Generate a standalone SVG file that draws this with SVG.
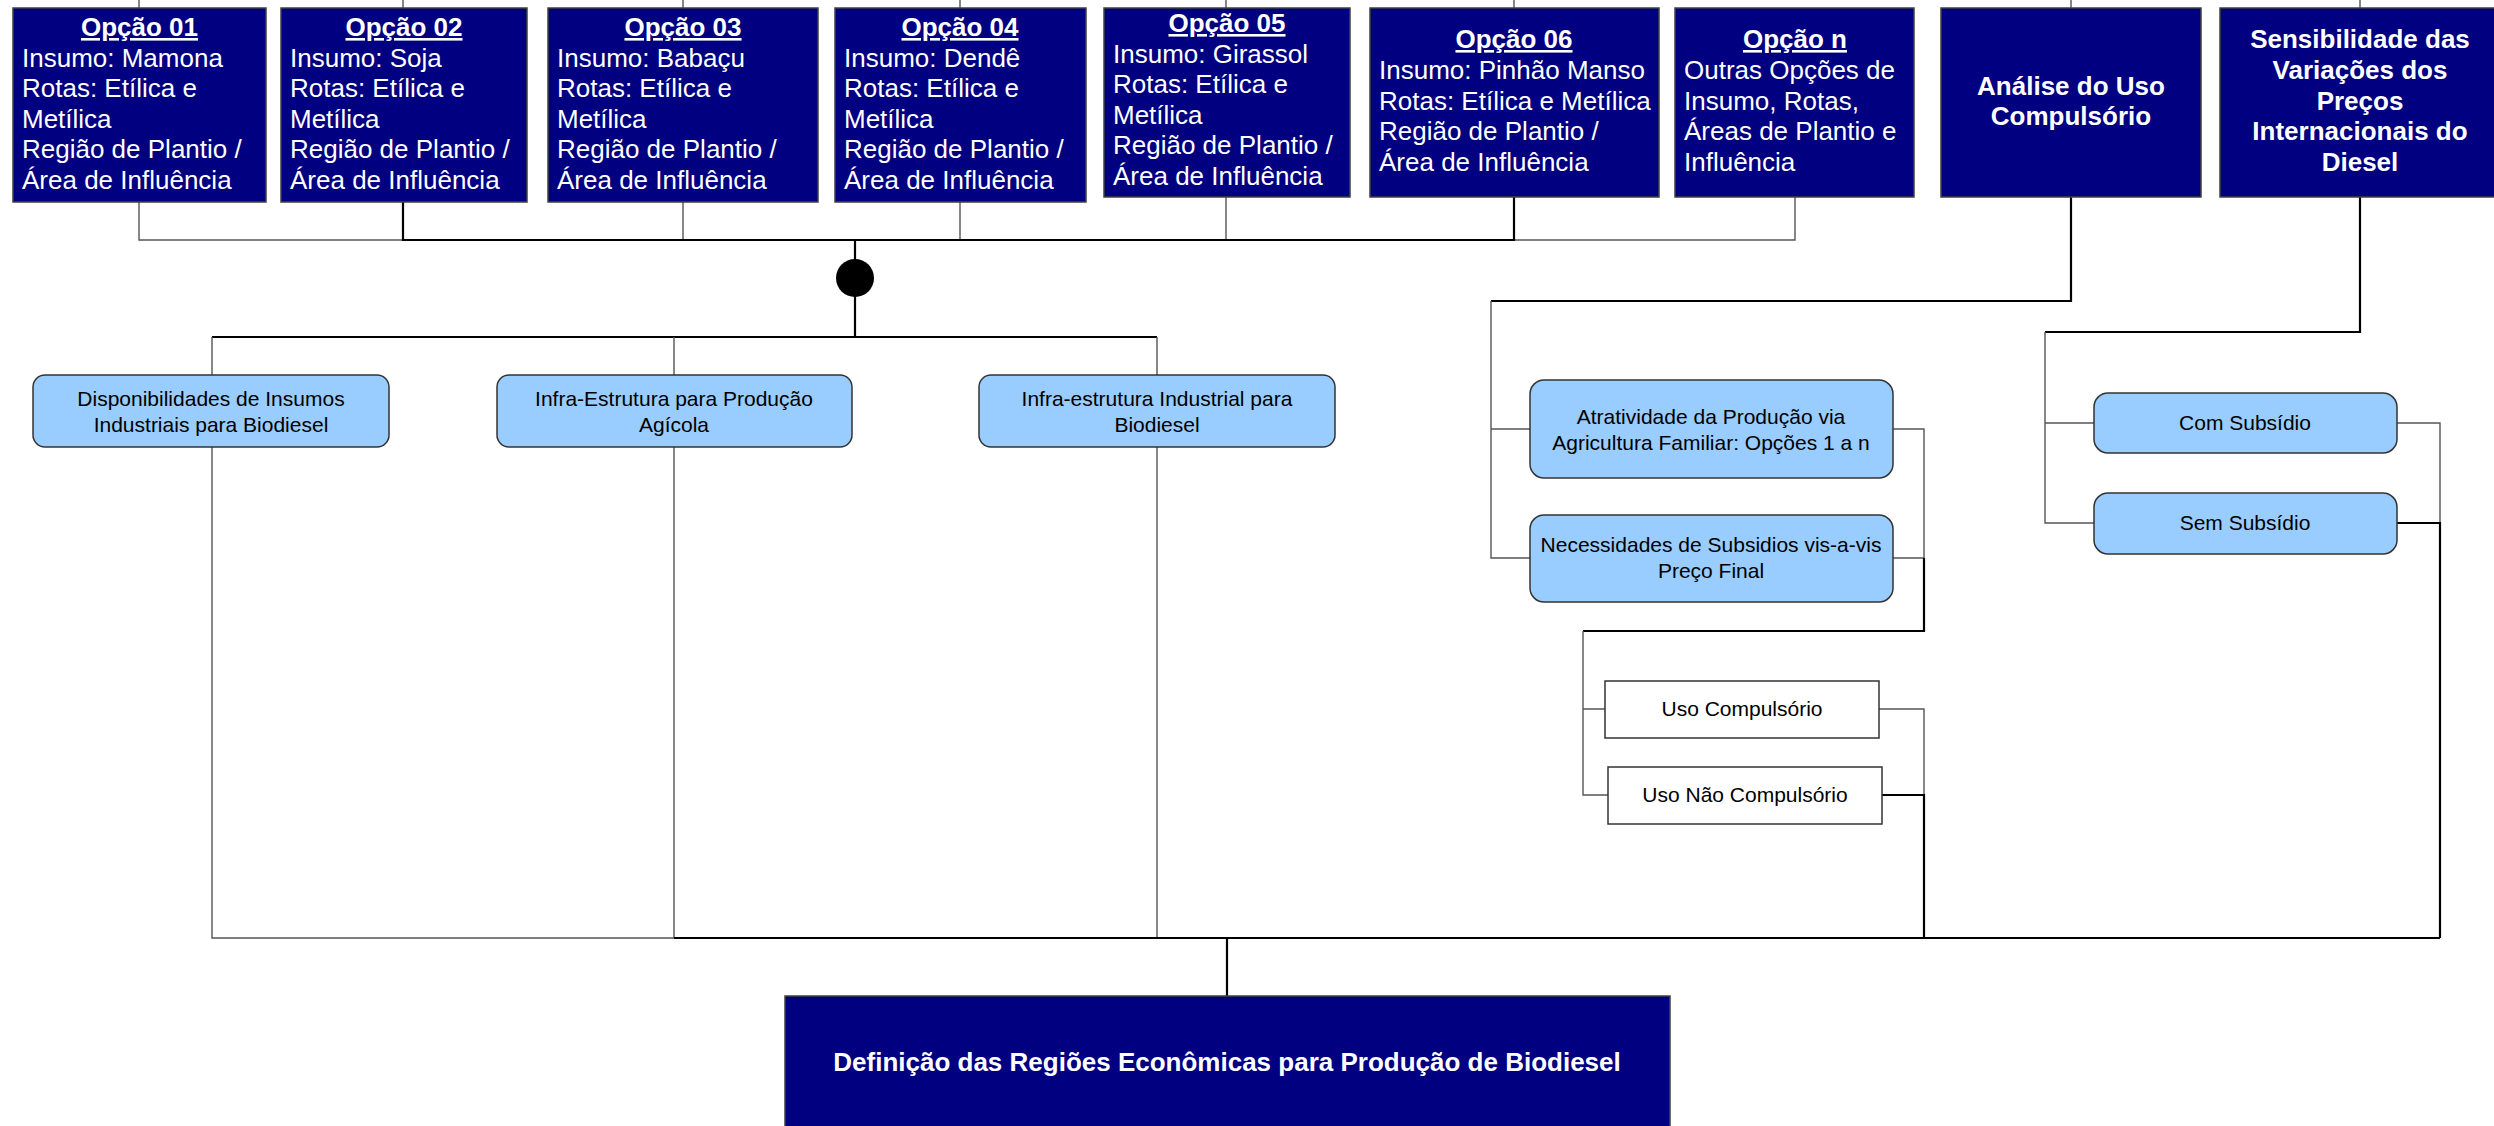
<svg xmlns="http://www.w3.org/2000/svg" width="2494" height="1126" viewBox="0 0 2494 1126">
<style>
.nv{fill:#000080;stroke:#404040;stroke-width:1.5}
.lb{fill:#99CCFF;stroke:#333;stroke-width:1.5}
.wb{fill:#fff;stroke:#333;stroke-width:1.5}
.t{font-family:"Liberation Sans",Arial,sans-serif;font-size:26px;fill:#fff}
.tb{font-family:"Liberation Sans",Arial,sans-serif;font-size:26px;fill:#fff;font-weight:bold}
.h{font-family:"Liberation Sans",Arial,sans-serif;font-size:26px;fill:#fff;font-weight:bold;text-decoration:underline;text-anchor:middle}
.s{font-family:"Liberation Sans",Arial,sans-serif;font-size:21px;fill:#000;text-anchor:middle}
.thin{fill:none;stroke:#555;stroke-width:1.4}
.thick{fill:none;stroke:#000;stroke-width:2.2}
</style>
<rect width="2494" height="1126" fill="#fff"/>
<g id="connectors">
<path class="thin" d="M139 0V8M403 0V8M683 0V8M960 0V8M1226 0V8M1514 0V8M2071 0V8M2360 0V8"/>
<path class="thin" d="M139 202V240H403M683 202V240M960 202V240M1226 197V240M1514 240H1795V197"/>
<path class="thick" d="M403 202V240H1514V197"/>
<path class="thick" d="M855 240V337M212 337H1157"/>
<path class="thin" d="M212 337V375M674 337V375M1157 337V375"/>
<path class="thin" d="M212 447V938H674M674 447V938M1157 447V938"/>
<path class="thick" d="M674 938H2440M1227 938V996"/>
<path class="thick" d="M2071 197V301H1491"/>
<path class="thin" d="M1491 301V558H1530M1491 429H1530"/>
<path class="thin" d="M1893 429H1924V558M1893 558H1924"/>
<path class="thick" d="M1924 558V631H1583"/>
<path class="thin" d="M1583 631V795H1608M1583 709H1605"/>
<path class="thin" d="M1879 709H1924V795"/>
<path class="thick" d="M1882 795H1924V938"/>
<path class="thick" d="M2360 197V332H2045"/>
<path class="thin" d="M2045 332V523H2094M2045 423H2094"/>
<path class="thin" d="M2397 423H2440V523"/>
<path class="thick" d="M2397 523H2440V938"/>
</g>
<g id="merge"><circle cx="855" cy="278" r="19" fill="#000"/></g>
<g id="opcao01"><rect class="nv" x="13" y="8" width="253" height="194"/>
<text class="h" x="139.5" y="36">Opção 01</text>
<text class="t"><tspan x="22" y="67">Insumo: Mamona</tspan><tspan x="22" y="97">Rotas: Etílica e</tspan><tspan x="22" y="128">Metílica</tspan><tspan x="22" y="158">Região de Plantio /</tspan><tspan x="22" y="189">Área de Influência</tspan></text></g>
<g id="opcao02"><rect class="nv" x="281" y="8" width="246" height="194"/>
<text class="h" x="404" y="36">Opção 02</text>
<text class="t"><tspan x="290" y="67">Insumo: Soja</tspan><tspan x="290" y="97">Rotas: Etílica e</tspan><tspan x="290" y="128">Metílica</tspan><tspan x="290" y="158">Região de Plantio /</tspan><tspan x="290" y="189">Área de Influência</tspan></text></g>
<g id="opcao03"><rect class="nv" x="548" y="8" width="270" height="194"/>
<text class="h" x="683" y="36">Opção 03</text>
<text class="t"><tspan x="557" y="67">Insumo: Babaçu</tspan><tspan x="557" y="97">Rotas: Etílica e</tspan><tspan x="557" y="128">Metílica</tspan><tspan x="557" y="158">Região de Plantio /</tspan><tspan x="557" y="189">Área de Influência</tspan></text></g>
<g id="opcao04"><rect class="nv" x="835" y="8" width="251" height="194"/>
<text class="h" x="960" y="36">Opção 04</text>
<text class="t"><tspan x="844" y="67">Insumo: Dendê</tspan><tspan x="844" y="97">Rotas: Etílica e</tspan><tspan x="844" y="128">Metílica</tspan><tspan x="844" y="158">Região de Plantio /</tspan><tspan x="844" y="189">Área de Influência</tspan></text></g>
<g id="opcao05"><rect class="nv" x="1104" y="8" width="246" height="189"/>
<text class="h" x="1227" y="32">Opção 05</text>
<text class="t"><tspan x="1113" y="63">Insumo: Girassol</tspan><tspan x="1113" y="93">Rotas: Etílica e</tspan><tspan x="1113" y="124">Metílica</tspan><tspan x="1113" y="154">Região de Plantio /</tspan><tspan x="1113" y="185">Área de Influência</tspan></text></g>
<g id="opcao06"><rect class="nv" x="1370" y="8" width="289" height="189"/>
<text class="h" x="1514" y="48">Opção 06</text>
<text class="t"><tspan x="1379" y="79">Insumo: Pinhão Manso</tspan><tspan x="1379" y="110">Rotas: Etílica e Metílica</tspan><tspan x="1379" y="140">Região de Plantio /</tspan><tspan x="1379" y="171">Área de Influência</tspan></text></g>
<g id="opcaon"><rect class="nv" x="1675" y="8" width="239" height="189"/>
<text class="h" x="1795" y="48">Opção n</text>
<text class="t"><tspan x="1684" y="79">Outras Opções de</tspan><tspan x="1684" y="110">Insumo, Rotas,</tspan><tspan x="1684" y="140">Áreas de Plantio e</tspan><tspan x="1684" y="171">Influência</tspan></text></g>
<g id="analise"><rect class="nv" x="1941" y="8" width="260" height="189"/>
<text class="tb" text-anchor="middle"><tspan x="2071" y="95">Análise do Uso</tspan><tspan x="2071" y="125">Compulsório</tspan></text></g>
<g id="sensibilidade"><rect class="nv" x="2220" y="8" width="280" height="189"/>
<text class="tb" text-anchor="middle"><tspan x="2360" y="48">Sensibilidade das</tspan><tspan x="2360" y="79">Variações dos</tspan><tspan x="2360" y="110">Preços</tspan><tspan x="2360" y="140">Internacionais do</tspan><tspan x="2360" y="171">Diesel</tspan></text></g>
<g id="disponibilidades"><rect class="lb" x="33" y="375" width="356" height="72" rx="12"/>
<text class="s"><tspan x="211" y="406">Disponibilidades de Insumos</tspan><tspan x="211" y="432">Industriais para Biodiesel</tspan></text></g>
<g id="infra-agricola"><rect class="lb" x="497" y="375" width="355" height="72" rx="12"/>
<text class="s"><tspan x="674" y="406">Infra-Estrutura para Produção</tspan><tspan x="674" y="432">Agícola</tspan></text></g>
<g id="infra-industrial"><rect class="lb" x="979" y="375" width="356" height="72" rx="12"/>
<text class="s"><tspan x="1157" y="406">Infra-estrutura Industrial para</tspan><tspan x="1157" y="432">Biodiesel</tspan></text></g>
<g id="atratividade"><rect class="lb" x="1530" y="380" width="363" height="98" rx="14"/>
<text class="s"><tspan x="1711" y="424">Atratividade da Produção via</tspan><tspan x="1711" y="450">Agricultura Familiar: Opções 1 a n</tspan></text></g>
<g id="necessidades"><rect class="lb" x="1530" y="515" width="363" height="87" rx="14"/>
<text class="s"><tspan x="1711" y="552">Necessidades de Subsidios vis-a-vis</tspan><tspan x="1711" y="578">Preço Final</tspan></text></g>
<g id="uso-compulsorio"><rect class="wb" x="1605" y="681" width="274" height="57"/>
<text class="s" x="1742" y="716">Uso Compulsório</text></g>
<g id="uso-nao-compulsorio"><rect class="wb" x="1608" y="767" width="274" height="57"/>
<text class="s" x="1745" y="802">Uso Não Compulsório</text></g>
<g id="com-subsidio"><rect class="lb" x="2094" y="393" width="303" height="60" rx="14"/>
<text class="s" x="2245" y="430">Com Subsídio</text></g>
<g id="sem-subsidio"><rect class="lb" x="2094" y="493" width="303" height="61" rx="14"/>
<text class="s" x="2245" y="530">Sem Subsídio</text></g>
<g id="definicao"><rect class="nv" x="785" y="996" width="885" height="140"/>
<text class="tb" x="1227" y="1071" text-anchor="middle" font-size="24">Definição das Regiões Econômicas para Produção de Biodiesel</text></g>
</svg>
